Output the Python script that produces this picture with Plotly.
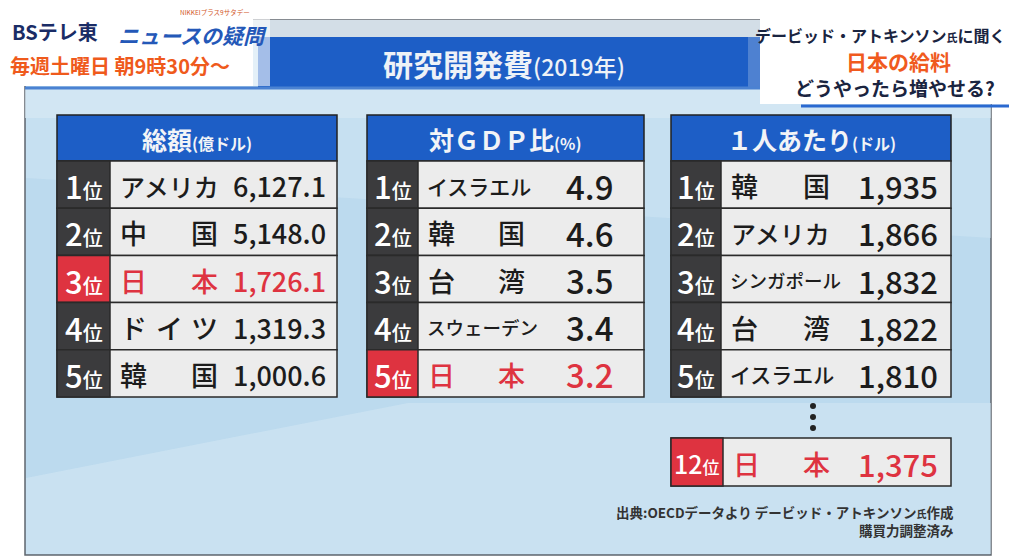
import plotly.graph_objects as go

# ---- data (R&D spending 2019) ----
TOTAL_NAMES = ["アメリカ", "中国", "日本", "ドイツ", "韓国"]
TOTAL_VALUES = [6127.1, 5148.0, 1726.1, 1319.3, 1000.6]

GDP_NAMES = ["イスラエル", "韓国", "台湾", "スウェーデン", "日本"]
GDP_VALUES = [4.9, 4.6, 3.5, 3.4, 3.2]

CAPITA_NAMES = ["韓国", "アメリカ", "シンガポール", "台湾", "イスラエル"]
CAPITA_VALUES = [1935, 1866, 1832, 1822, 1810]

JAPAN = "日本"
JAPAN_CAPITA_RANK = 12
JAPAN_CAPITA_VALUE = 1375

FONT = "Noto Sans CJK JP"
BLUE = "#1d5ec6"
RED = "#de3340"
DARK = "#3b3b3d"
CELL = "#ececec"
INK = "#1c1c1c"
W = 500  # medium weight for the board text

fig = go.Figure()
shapes = []
notes = []


def rect(x0, y0, x1, y1, fill, line=None, lw=0, opacity=1.0):
    shapes.append(dict(type="rect", xref="x", yref="y", x0=x0, y0=y0, x1=x1, y1=y1,
                       fillcolor=fill, opacity=opacity, layer="below",
                       line=dict(color=line or fill, width=lw)))


def text(x, y, s, size, color, anchor="center", weight="normal", style="normal"):
    notes.append(dict(x=x, y=y, xref="x", yref="y", text=s, showarrow=False,
                      xanchor=anchor, yanchor="middle",
                      font=dict(family=FONT, size=size, color=color, weight=weight, style=style)))


def name_text(name, x0, x1, y, color, size=27):
    # short names are spread across the column like on the TV board
    n = len(name)
    if n <= 3:
        step = (x1 - x0 - size) / (n - 1)
        for i, ch in enumerate(name):
            text(x0 + size / 2 + i * step, y, ch, size, color, weight=W)
    elif n == 4:
        text(x0 - 2, y, name, 25, color, anchor="left", weight=W)
    elif n == 5:
        text(x0 - 3, y, name, 21, color, anchor="left", weight=W)
    else:
        text(x0 - 3, y, name, 18.5, color, anchor="left", weight=W)


# ---- background board ----
rect(0, 0, 1017, 558, "white")
rect(17, 12, 983, 547, "#bcdaee", line="#5f666d", lw=1.5)
rect(17, 12, 983, 30, "#d3dee7")
rect(17, 80, 983, 110, "#dcebf5", opacity=0.7)
# soft diagonal light streaks on the board
shapes.append(dict(type="path", xref="x", yref="y", layer="below",
                   path="M 18 470 L 400 395 L 983 395 L 983 546 L 18 546 Z",
                   fillcolor="#d4e8f4", opacity=0.55, line=dict(width=0)))
shapes.append(dict(type="path", xref="x", yref="y", layer="below",
                   path="M 18 110 L 983 110 L 983 230 L 18 170 Z",
                   fillcolor="#d4e8f4", opacity=0.4, line=dict(width=0)))
rect(250, 29, 762, 79, BLUE)
rect(740, 29, 762, 79, "#6f9ad8", opacity=0.6)
shapes.append(dict(type="line", xref="x", yref="y", x0=17, x1=983, y0=80, y1=80,
                   line=dict(color="#4b82d2", width=3), layer="below"))

# logo area (top-left)
rect(0, 0, 245, 78, "white")
rect(245, 0, 262, 78, "white", opacity=0.6)
text(2, 23, "<b>BSテレ東</b>", 20, "#1a2c66", anchor="left")
text(108, 27, "<b><i>ニュースの疑問</i></b>", 21, "#2458b8", anchor="left")
text(170, 4, "NIKKEIプラス9サタデー", 6.5, "#d2572a", anchor="left")
text(0, 57, "<b>毎週土曜日 朝9時30分〜</b>", 20, "#ef5a1c", anchor="left")

# caption (top-right)
rect(752, 8, 1017, 96, "white")
shapes.append(dict(type="line", xref="x", yref="y", x0=793, x1=1017, y0=98, y1=98,
                   line=dict(color="#2a69d0", width=3), layer="below"))
text(872, 27, "<b>デービッド・アトキンソン<span style='font-size:11px'>氏</span>に聞く</b>", 16, "#1a2440")
text(890, 53, "<b>日本の給料</b>", 21, "#f05a1e")
text(887, 79, "<b>どうやったら増やせる?</b>", 19, "#1a2440")

# title
text(496, 55, "<b>研究開発費</b><span style='font-size:23px'>(2019年)</span>", 30, "#eef2f7", weight=W)

# ---- tables ----
TOP = 153
ROW_H = 47.2
HEAD_TOP = 107


def table(x0, x1, rank_x1, title, names, labels, name_x0, name_x1, val_x, val_size):
    rect(x0, HEAD_TOP, x1, TOP, BLUE, line="#222", lw=1.5)
    text((x0 + x1) / 2, (HEAD_TOP + TOP) / 2 + 1, title, 25, "#f2f4f7")
    for i, (nm, lab) in enumerate(zip(names, labels)):
        y0 = TOP + i * ROW_H
        y1 = y0 + ROW_H
        ym = (y0 + y1) / 2 + 1
        jp = nm == JAPAN
        rect(x0, y0, x1, y1, CELL, line="#2a2a2a", lw=1.5)
        rect(x0, y0, rank_x1, y1, RED if jp else DARK, line="#2a2a2a", lw=1.5)
        text((x0 + rank_x1) / 2, ym, f"{i + 1}<span style='font-size:20px'>位</span>", 31, "white", weight=W)
        col = RED if jp else INK
        name_text(nm, name_x0, name_x1, ym, col)
        text(val_x, ym, lab, val_size, col, anchor="right", weight=W)


table(49, 329, 102, "<b>総額</b><span style='font-size:16px'><b>(億ドル)</b></span>",
      TOTAL_NAMES, [f"{v:,.1f}" for v in TOTAL_VALUES], 112, 210, 320, 27)
table(359, 636, 410, "<b>対ＧＤＰ比</b><span style='font-size:16px'><b>(%)</b></span>",
      GDP_NAMES, [f"{v:.1f}" for v in GDP_VALUES], 420, 517, 607, 33)
table(663, 943, 713, "<b>１人あたり</b><span style='font-size:16px'><b>(ドル)</b></span>",
      CAPITA_NAMES, [f"{v:,}" for v in CAPITA_VALUES], 723, 822, 932, 31)

# Japan's position in the per-capita ranking
JY0, JY1 = 430, 478
jm = (JY0 + JY1) / 2 + 1
rect(663, JY0, 943, JY1, CELL, line="#2a2a2a", lw=1.5)
rect(663, JY0, 715, JY1, RED, line="#2a2a2a", lw=1.5)
text(689, jm, f"{JAPAN_CAPITA_RANK}<span style='font-size:17px'>位</span>", 25, "white", weight=W)
name_text(JAPAN, 725, 822, jm, RED)
text(932, jm, f"{JAPAN_CAPITA_VALUE:,}", 31, RED, anchor="right", weight=W)

fig.add_trace(go.Scatter(x=[805, 805, 805], y=[398, 409, 420], mode="markers",
                         marker=dict(size=6, color="#222"), hoverinfo="skip", showlegend=False))

# source note
text(948, 504, "<b>出典:OECDデータより デービッド・アトキンソン<span style='font-size:10px'>氏</span>作成</b>",
     13.5, "#333", anchor="right")
text(948, 522, "<b>購買力調整済み</b>", 13.5, "#333", anchor="right")

fig.update_layout(
    width=1017, height=558,
    margin=dict(l=0, r=0, t=0, b=0),
    paper_bgcolor="white", plot_bgcolor="white",
    xaxis=dict(range=[0, 1017], visible=False, fixedrange=True),
    yaxis=dict(range=[558, 0], visible=False, fixedrange=True),
    shapes=shapes, annotations=notes, showlegend=False,
)
fig.write_html("out.html")
